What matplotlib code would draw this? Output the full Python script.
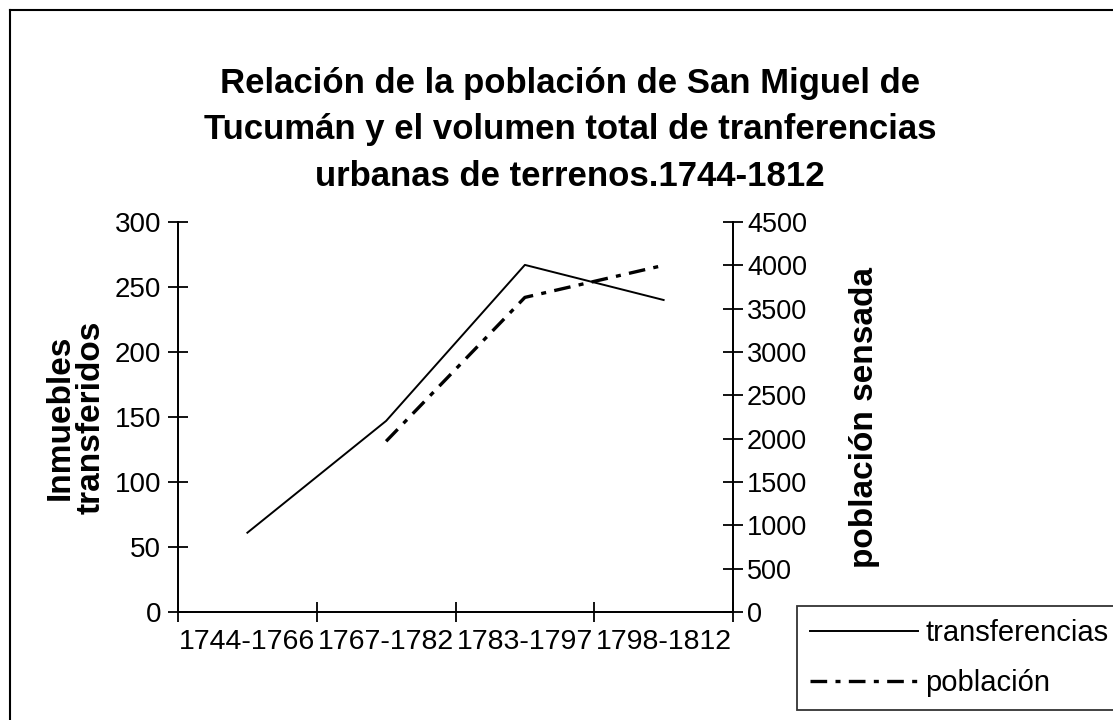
import matplotlib
matplotlib.use("Agg")
import matplotlib.pyplot as plt
from matplotlib.lines import Line2D
import numpy as np

# ===================== datos =====================
periodos = ["1744-1766", "1767-1782", "1783-1797", "1798-1812"]
transferencias = [61, 147, 267, 240]
poblacion = [np.nan, 1970, 3630, 4000]

titulo = ("Relación de la población de San Miguel de\n"
          "Tucumán y el volumen total de tranferencias\n"
          "urbanas de terrenos.1744-1812")

plt.rcParams["font.family"] = ["Liberation Sans", "DejaVu Sans"]

fig = plt.figure(figsize=(11.13, 7.2), dpi=100)
fig.patch.set_facecolor("white")

# marco exterior (sólo se ven arriba e izquierda)
fig.add_artist(Line2D([10 / 1113, 10 / 1113], [0, 1 - 10 / 720], color="black", lw=1.5))
fig.add_artist(Line2D([10 / 1113, 1], [1 - 10 / 720, 1 - 10 / 720], color="black", lw=1.5))

ax = fig.add_axes([178 / 1113, 1 - 612 / 720, 555 / 1113, 390 / 720])
ax2 = ax.twinx()

x = np.arange(len(periodos))
ax.plot(x, transferencias, color="black", lw=1.4, label="transferencias")
ax2.plot(x, poblacion, color="black", lw=2.4, linestyle=(0, (5, 2.5, 1.5, 2.5)), label="población")

ax.set_xlim(-0.5, len(periodos) - 0.5)
ax.set_ylim(0, 300)
ax2.set_ylim(0, 4500)
ax.set_yticks(range(0, 301, 50))
ax2.set_yticks(range(0, 4501, 500))
ax.set_xticks(x)
ax.set_xticklabels(periodos, fontsize=20.5)
ax.set_xticks(np.arange(-0.5, len(periodos), 1), minor=True)
ax.tick_params(axis="x", which="major", length=0, pad=12)
ax.tick_params(axis="x", which="minor", direction="inout", length=14, width=1.3)
ax.tick_params(axis="y", direction="inout", length=14, width=1.3, labelsize=20, pad=5)
ax2.tick_params(axis="y", direction="inout", length=14, width=1.3, labelsize=19.5, pad=3)

for a in (ax, ax2):
    for side in ("top", "right", "left", "bottom"):
        a.spines[side].set_linewidth(1.3)
ax.spines["top"].set_visible(False)
ax2.spines["top"].set_visible(False)

ax.set_ylabel("Inmuebles\ntransferidos", fontsize=24, fontweight="bold",
              labelpad=6, linespacing=1.0)
ax2.set_ylabel("población sensada", fontsize=24, fontweight="bold", labelpad=30)

fig.text(570 / 1113, 1 - 130 / 720, titulo, ha="center", va="center",
         fontsize=25, fontweight="bold", linespacing=1.5)

h1, l1 = ax.get_legend_handles_labels()
h2, l2 = ax2.get_legend_handles_labels()
leg = fig.legend(h1 + h2, l1 + l2, loc="upper left",
                 bbox_to_anchor=(797 / 1113, 1 - 606 / 720),
                 fontsize=21, frameon=True, fancybox=False, edgecolor="black",
                 handlelength=3.7, handletextpad=0.25, borderpad=0.45,
                 labelspacing=0.75, borderaxespad=0)
leg.get_frame().set_linewidth(1.3)

fig.savefig("out.png", dpi=100, facecolor="white")
